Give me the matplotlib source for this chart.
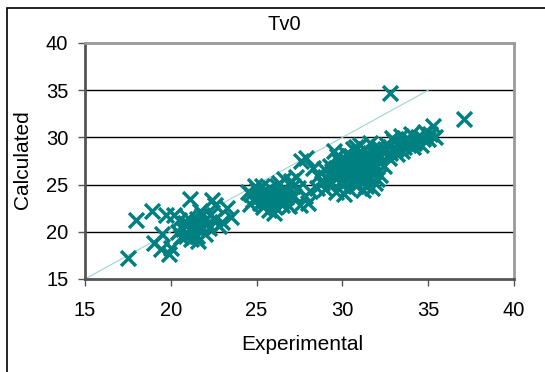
import matplotlib.pyplot as plt
from matplotlib.patches import Rectangle

plt.rcParams['font.family'] = ['Liberation Sans', 'DejaVu Sans']

# low sparse group
low_x = [17.5, 18.0, 18.9, 19.0, 19.5, 19.4, 19.7, 19.9, 20.0, 20.2, 20.5, 20.7,
         20.9, 21.1, 21.0, 21.2, 21.3, 21.5, 21.6, 21.8, 21.0, 20.6, 21.4, 22.0,
         22.2, 22.4, 22.6, 22.3, 22.8, 23.0, 23.3, 23.5, 22.0, 21.8, 22.6, 20.4, 21.7,
         21.2, 21.5, 20.8, 22.1]
low_y = [17.2, 21.2, 22.2, 18.8, 19.8, 18.2, 21.8, 17.6, 18.3, 21.8, 21.2, 20.3,
         19.6, 23.5, 20.8, 19.2, 20.0, 21.4, 19.0, 20.5, 21.5, 19.4, 20.6, 21.2,
         20.4, 23.4, 22.8, 21.8, 20.6, 21.0, 22.5, 21.6, 19.8, 21.8, 21.4, 20.0, 22.2,
         20.2, 19.6, 20.9, 20.8]

# middle group
mid_x = [24.5, 24.8, 25.0, 25.2, 25.4, 25.6, 25.8, 26.0, 26.0, 26.2, 26.4, 26.6,
         26.8, 27.0, 26.5, 25.3, 25.0, 24.6, 25.9, 26.3, 27.2, 27.3, 27.6, 27.9,
         27.5, 28.0, 27.8, 28.3, 28.5, 28.8, 27.0, 26.7, 25.5, 24.9, 25.7, 26.1,
         26.9, 27.4, 25.1, 25.5, 25.9, 26.3, 26.7, 25.3, 25.7, 26.1, 26.5, 24.7,
         27.1, 28.1, 28.6]
mid_y = [24.2, 23.4, 24.4, 23.0, 22.6, 23.8, 24.6, 22.0, 23.5, 24.8, 23.2, 25.6,
         24.2, 25.4, 22.8, 24.9, 23.8, 22.9, 23.0, 25.2, 23.8, 25.8, 27.5, 27.8,
         22.8, 23.0, 23.8, 26.8, 24.6, 25.2, 24.0, 23.7, 24.2, 24.8, 22.3, 24.0,
         22.7, 24.6, 23.6, 23.3, 23.9, 23.6, 24.4, 24.1, 23.5, 22.6, 24.0, 24.0,
         24.8, 24.3, 25.9]

# main dense group
main_x = [29.0, 29.2, 29.4, 29.5, 29.6, 29.8, 30.0, 30.0, 30.2, 30.3, 30.4, 30.5,
          30.6, 30.7, 30.8, 30.9, 31.0, 31.0, 31.1, 31.2, 31.3, 31.4, 31.5, 31.6,
          31.7, 31.8, 31.9, 32.0, 32.1, 32.2, 32.3, 32.0, 31.4, 30.2, 29.8, 29.3,
          30.6, 31.2, 30.8, 29.7, 29.0, 28.9, 30.1, 31.7, 32.4, 32.2,
          29.5, 29.9, 30.3, 30.7, 31.1, 31.5, 31.9, 29.6, 30.0, 30.4, 30.8, 31.2,
          31.6, 32.0, 29.8, 30.2, 30.6, 31.0, 31.4, 31.8, 30.5, 30.9, 31.3, 29.4]
main_y = [24.5, 25.5, 26.4, 28.6, 24.2, 27.5, 25.0, 26.5, 28.2, 24.6, 27.0, 25.8,
          28.8, 26.2, 24.8, 27.8, 25.4, 29.2, 26.8, 24.4, 28.0, 25.8, 27.2, 29.4,
          26.4, 28.4, 25.2, 27.6, 29.0, 26.0, 28.6, 25.6, 24.9, 25.6, 26.0, 27.0,
          27.4, 27.6, 29.0, 28.0, 25.8, 26.6, 24.0, 24.6, 27.0, 28.0,
          25.9, 25.4, 26.0, 25.6, 26.2, 26.0, 26.8, 26.8, 27.2, 26.4, 27.0, 26.0,
          27.8, 28.4, 26.6, 27.6, 26.6, 27.4, 27.0, 27.4, 28.0, 28.4, 26.6, 25.2]

# high group
high_x = [32.6, 32.8, 33.0, 33.2, 33.4, 33.6, 33.8, 34.0, 34.2, 34.4, 34.6, 34.8,
          35.0, 35.3, 35.4, 33.1, 32.9, 34.1, 33.5, 34.7, 35.1, 32.7, 33.3,
          32.5, 33.7, 34.3, 32.8, 37.1]
high_y = [29.2, 28.4, 29.6, 28.2, 30.2, 29.0, 29.8, 30.4, 29.4, 30.0, 29.2, 30.6,
          29.8, 31.2, 30.0, 28.8, 29.9, 29.0, 28.6, 29.8, 30.4, 27.8, 29.4,
          28.8, 29.4, 29.6, 34.7, 31.9]

xs = low_x + mid_x + main_x + high_x
ys = low_y + mid_y + main_y + high_y
line_x = [15, 35]
line_y = [15, 35]

W, H = 545, 372
fig = plt.figure(figsize=(W / 100, H / 100), dpi=100)
ax = fig.add_axes([85 / W, 1 - 279 / H, (514 - 85) / W, (279 - 43) / H])

ax.set_xlim(15, 40)
ax.set_ylim(15, 40)
ax.set_xticks([15, 20, 25, 30, 35, 40])
ax.set_yticks([15, 20, 25, 30, 35, 40])
for y in [20, 25, 30, 35]:
    ax.axhline(y, color='black', lw=1.0, zorder=1)

ax.plot(line_x, line_y, color='#9fd3d3', lw=0.8, zorder=2, clip_on=False)
ax.scatter(xs, ys, marker='x', s=115, linewidths=2.5, color='#008080', zorder=3)

for side in ['left', 'bottom']:
    ax.spines[side].set_color('#555555')
    ax.spines[side].set_linewidth(2)
for side in ['top', 'right']:
    ax.spines[side].set_color('#9a9a9a')
    ax.spines[side].set_linewidth(2)
ax.tick_params(direction='out', length=5, width=1, color='#555555',
               labelsize=14.5)
ax.tick_params(axis='x', pad=11)
ax.tick_params(axis='y', pad=7)

fig.text(284 / W, 1 - 25 / H, 'Tv0', ha='center', va='center', fontsize=14.5)
fig.text(302 / W, 1 - 345 / H, 'Experimental', ha='center', va='center', fontsize=15)
fig.text(23 / W, 1 - 160 / H, 'Calculated', ha='center', va='center',
         rotation=90, fontsize=15)

fig.patches.append(Rectangle((7 / W, -0.1), 1.2, 1 - 8 / H + 0.1,
                             transform=fig.transFigure, fill=False,
                             edgecolor='black', lw=1.2))

fig.savefig('out.png', dpi=100)
